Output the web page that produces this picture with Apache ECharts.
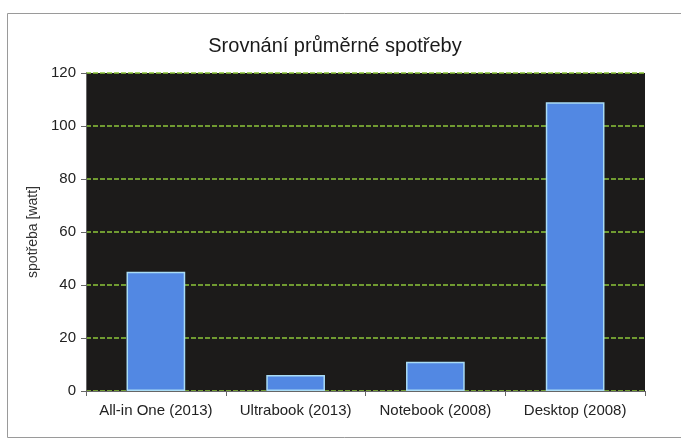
<!DOCTYPE html>
<html>
<head>
<meta charset="utf-8">
<script src="https://cdn.jsdelivr.net/npm/echarts@6/dist/echarts.min.js"></script>
<style>html,body{margin:0;padding:0;background:#fff;}#c{width:681px;height:441px;}</style>
</head>
<body>
<div id="c"></div>
<script>
const categories = ['All-in One (2013)', 'Ultrabook (2013)', 'Notebook (2008)', 'Desktop (2008)'];
const values = [45, 6, 11, 109];
const yTicks = [0, 20, 40, 60, 80, 100, 120];

const chart = echarts.init(document.getElementById('c'));
chart.setOption({
  backgroundColor: '#ffffff',
  animation: false,
  graphic: [{
    type: 'rect', shape: {x: 7.5, y: 13.5, width: 690, height: 424},
    style: {fill: 'none', stroke: '#9a9a9a', lineWidth: 1}, z: -1
  }],
  title: {
    text: 'Srovnání průměrné spotřeby', left: 330, top: 31, textAlign: 'center',
    textStyle: {fontFamily: 'Liberation Sans', fontSize: 20, fontWeight: 'normal', color: '#1a1a1a'}
  },
  grid: {left: 86, right: 36, top: 73, bottom: 50, show: true, backgroundColor: '#1c1b1a', borderWidth: 0},
  xAxis: {
    type: 'category', data: categories,
    axisLine: {lineStyle: {color: '#666'}},
    axisTick: {show: true, length: 5, lineStyle: {color: '#666'}},
    axisLabel: {fontFamily: 'Liberation Sans', fontSize: 15, color: '#222', margin: 12, interval: 0}
  },
  yAxis: {
    type: 'value', min: yTicks[0], max: yTicks[yTicks.length - 1], interval: 20,
    name: 'spotřeba [watt]', nameLocation: 'middle', nameGap: 46,
    nameTextStyle: {fontFamily: 'Liberation Sans', fontSize: 14, color: '#333'},
    axisLine: {show: true, lineStyle: {color: '#666'}},
    axisTick: {show: true, length: 5, lineStyle: {color: '#666'}},
    axisLabel: {fontFamily: 'Liberation Sans', fontSize: 15, color: '#222', margin: 10},
    splitLine: {show: true, lineStyle: {color: '#8cc63a', type: [5, 2], width: 1.5}}
  },
  series: [{
    type: 'bar', data: values, barWidth: '42%',
    itemStyle: {color: '#5288e3', borderColor: '#a9dcf5', borderWidth: 1.5}
  }]
});
</script>
</body>
</html>
